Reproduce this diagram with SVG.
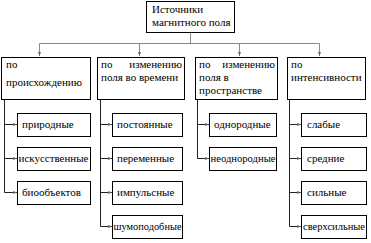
<svg xmlns="http://www.w3.org/2000/svg" width="371" height="243" viewBox="0 0 371 243">
<defs>
<marker id="ah" markerWidth="4" markerHeight="4" refX="4" refY="2" orient="auto" markerUnits="userSpaceOnUse">
<path d="M0,0.5 L4,2 L0,3.5 Z" fill="#666"/>
</marker>
</defs>
<style>
.box{fill:#fff;stroke:#000;stroke-width:1}
.t{font-family:"Liberation Serif","Times New Roman",serif;font-size:11px;fill:#000}
.c{fill:none;stroke:#222;stroke-width:1}
.g{fill:none;stroke:#888;stroke-width:1}
</style>
<g id="connectors">
<path class="g" d="M190.5,32 V43.5 M39.5,43.5 H319.5"/>
<path class="g" d="M39.5,43.5 V56" marker-end="url(#ah)"/>
<path class="g" d="M139.5,43.5 V56" marker-end="url(#ah)"/>
<path class="g" d="M239.5,43.5 V56" marker-end="url(#ah)"/>
<path class="g" d="M319.5,43.5 V56" marker-end="url(#ah)"/>
<path class="c" d="M4.5,100 V192.5"/>
<path class="c" d="M4.5,124.5 H17" marker-end="url(#ah)"/>
<path class="c" d="M4.5,158.5 H17" marker-end="url(#ah)"/>
<path class="c" d="M4.5,192.5 H17" marker-end="url(#ah)"/>
<path class="c" d="M100.5,100 V226.5"/>
<path class="c" d="M100.5,124.5 H112" marker-end="url(#ah)"/>
<path class="c" d="M100.5,158.5 H112" marker-end="url(#ah)"/>
<path class="c" d="M100.5,192.5 H112" marker-end="url(#ah)"/>
<path class="c" d="M100.5,226.5 H112" marker-end="url(#ah)"/>
<path class="c" d="M197.5,100 V158.5"/>
<path class="c" d="M197.5,124.5 H209" marker-end="url(#ah)"/>
<path class="c" d="M197.5,158.5 H209" marker-end="url(#ah)"/>
<path class="c" d="M289.5,100 V226.5"/>
<path class="c" d="M289.5,124.5 H301" marker-end="url(#ah)"/>
<path class="c" d="M289.5,158.5 H301" marker-end="url(#ah)"/>
<path class="c" d="M289.5,192.5 H301" marker-end="url(#ah)"/>
<path class="c" d="M289.5,226.5 H301" marker-end="url(#ah)"/>
</g>
<g id="root">
<rect class="box" x="146.5" y="1.5" width="88" height="31"/>
<text class="t" x="152" y="13">Источники</text>
<text class="t" x="152" y="26">магнитного поля</text>
</g>
<g id="origin">
<rect class="box" x="1.5" y="57.5" width="89" height="42"/>
<text class="t" x="6" y="68">по</text>
<text class="t" x="6" y="86">происхождению</text>
</g>
<g id="time">
<rect class="box" x="97.5" y="57.5" width="87" height="42"/>
<text class="t" x="101" y="68">по</text>
<text class="t" x="182" y="68" text-anchor="end">изменению</text>
<text class="t" x="101" y="81">поля во времени</text>
</g>
<g id="space">
<rect class="box" x="195.5" y="57.5" width="82" height="42"/>
<text class="t" x="199" y="68">по</text>
<text class="t" x="275" y="68" text-anchor="end">изменению</text>
<text class="t" x="199" y="81">поля в</text>
<text class="t" x="199" y="94">пространстве</text>
</g>
<g id="intensity">
<rect class="box" x="287.5" y="57.5" width="78" height="42"/>
<text class="t" x="291" y="68">по</text>
<text class="t" x="291" y="81">интенсивности</text>
</g>
<g id="natural"><rect class="box" x="17.5" y="113.5" width="73" height="23"/><text class="t" x="22" y="128">природные</text></g>
<g id="artificial"><rect class="box" x="17.5" y="147.5" width="73" height="23"/><text class="t" x="18.5" y="162" textLength="70" lengthAdjust="spacingAndGlyphs">искусственные</text></g>
<g id="bio"><rect class="box" x="17.5" y="181.5" width="73" height="23"/><text class="t" x="22" y="196">биообъектов</text></g>
<g id="constant"><rect class="box" x="112.5" y="113.5" width="70" height="23"/><text class="t" x="117" y="128">постоянные</text></g>
<g id="variable"><rect class="box" x="112.5" y="147.5" width="70" height="23"/><text class="t" x="117" y="162">переменные</text></g>
<g id="pulse"><rect class="box" x="112.5" y="181.5" width="70" height="23"/><text class="t" x="117" y="196">импульсные</text></g>
<g id="noise"><rect class="box" x="112.5" y="215.5" width="70" height="23"/><text class="t" x="113.5" y="230" textLength="68" lengthAdjust="spacingAndGlyphs">шумоподобные</text></g>
<g id="uniform"><rect class="box" x="209.5" y="113.5" width="67" height="23"/><text class="t" x="214" y="128">однородные</text></g>
<g id="nonuniform"><rect class="box" x="209.5" y="147.5" width="67" height="23"/><text class="t" x="210.5" y="162" textLength="65" lengthAdjust="spacingAndGlyphs">неоднородные</text></g>
<g id="weak"><rect class="box" x="301.5" y="113.5" width="65" height="23"/><text class="t" x="307" y="128">слабые</text></g>
<g id="medium"><rect class="box" x="301.5" y="147.5" width="65" height="23"/><text class="t" x="307" y="162">средние</text></g>
<g id="strong"><rect class="box" x="301.5" y="181.5" width="65" height="23"/><text class="t" x="307" y="196">сильные</text></g>
<g id="superstrong"><rect class="box" x="301.5" y="215.5" width="65" height="23"/><text class="t" x="303" y="230" textLength="62" lengthAdjust="spacingAndGlyphs">сверхсильные</text></g>
</svg>
